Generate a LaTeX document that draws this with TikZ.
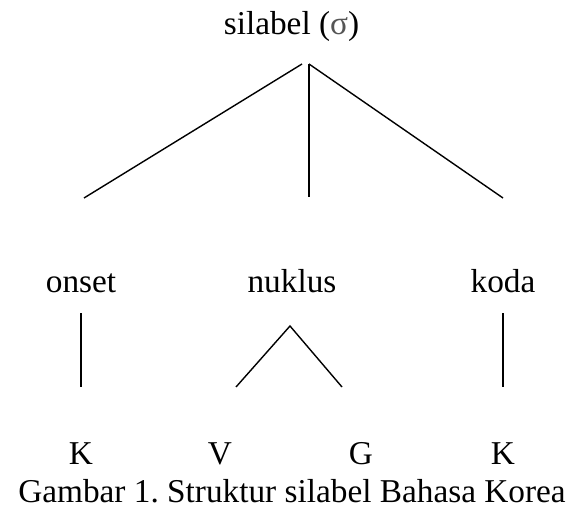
\documentclass[tikz,border=0pt]{standalone}
\usepackage{fontspec}
\setmainfont{Liberation Serif}
\usepackage{xcolor}
\definecolor{sigmagray}{HTML}{555555}
\frenchspacing
\begin{document}
\begin{tikzpicture}[x=1pt,y=-1pt,
  lbl/.style={anchor=base,inner sep=0pt,font=\fontsize{33.3}{40}\selectfont},
  branch/.style={line width=1.4pt,line cap=butt}]
\useasboundingbox (0,0) rectangle (571,508);

% labels
\node[lbl] (syl) at (291.5,35) {silabel (\textcolor{sigmagray}{σ})};
\node[lbl] (onset) at (81,293) {onset};
\node[lbl] (nuk) at (292,293) {nuklus};
\node[lbl] (koda) at (503,293) {koda};
\node[lbl] (k1) at (81,464) {K};
\node[lbl] (v) at (220,464) {V};
\node[lbl] (g) at (361,464) {G};
\node[lbl] (k2) at (503,464) {K};
\node[lbl] (cap) at (292,502.5) {Gambar 1. Struktur silabel Bahasa Korea};

% branch end points
\coordinate (topL) at (302,64);
\coordinate (topR) at (309,64);
\coordinate (onsetTop) at (84,198);
\coordinate (nukTop) at (309,197);
\coordinate (kodaTop) at (503,198);
\coordinate (onsetA) at (81,313);
\coordinate (onsetB) at (81,387);
\coordinate (nukApex) at (290,326);
\coordinate (nukL) at (236,387);
\coordinate (nukR) at (342,387);
\coordinate (kodaA) at (503,313);
\coordinate (kodaB) at (503,387);

% syllable level
\draw[branch] (topL) -- (onsetTop);
\draw[branch] (topR) -- (nukTop);
\draw[branch] (topR) -- (kodaTop);

% segment level
\draw[branch] (onsetA) -- (onsetB);
\draw[branch] (nukL) -- (nukApex) -- (nukR);
\draw[branch] (kodaA) -- (kodaB);
\end{tikzpicture}
\end{document}
